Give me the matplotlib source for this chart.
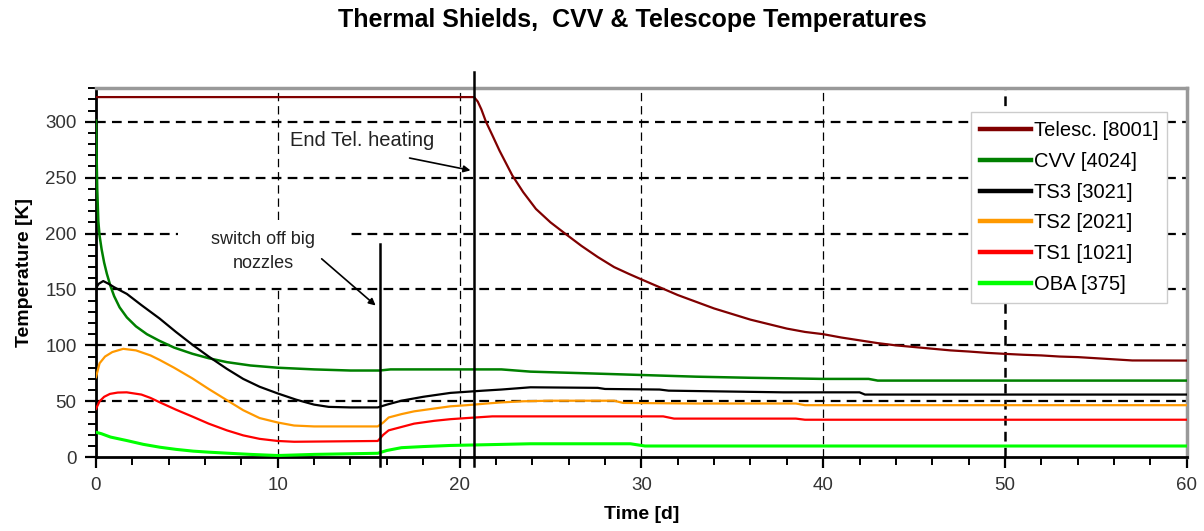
import numpy as np
import matplotlib.pyplot as plt
from matplotlib.patches import Rectangle
from matplotlib.ticker import MultipleLocator

plt.rcParams['font.family'] = ['Liberation Sans', 'DejaVu Sans']
plt.rcParams['lines.scale_dashes'] = False

# data (time in days, temperature in K)
t_telesc = [0, 20.8, 21.0, 21.2, 21.45, 21.8, 22.2, 22.9, 23.5, 24.2, 25.0, 25.8, 26.7, 27.6, 28.5, 29.3,
            30, 31, 32, 33, 34, 35, 36, 37, 38, 39, 40, 41, 42, 43, 44, 45, 46, 47, 48, 49, 50,
            51, 52, 53, 54, 55, 56, 57, 60]
T_telesc = [322, 322, 318, 311, 300, 288, 274, 252, 237, 222, 210, 200, 189, 179, 170, 164,
            159, 152, 145, 139, 133, 128, 123, 119, 115, 112, 110, 107, 104.5, 102, 100, 98.5, 97, 95.5, 94.5, 93.3, 92.4,
            91.6, 91, 90, 89.5, 88.5, 87.5, 86.5, 86.4]

t_cvv = [0, 0.03, 0.07, 0.13, 0.2, 0.31, 0.45, 0.6, 0.8, 1.0, 1.3, 1.7, 2.2, 2.8, 3.5, 4.3, 5.3, 6.2, 7.2,
         8.5, 10, 12, 14, 15.6, 16.2, 22.3, 23.9, 27, 30, 33, 36, 40, 42.5, 43, 60]
T_cvv = [301, 275, 240, 211, 198, 186, 174, 164, 153, 144, 134, 125, 117, 110, 104, 98, 92.5, 88.5, 85,
         82, 80, 78.5, 77.5, 77.5, 78.5, 78.5, 76.5, 75, 73.5, 72, 71, 70, 70, 68.5, 68.5]

t_ts3 = [0, 0.15, 0.4, 0.7, 1.0, 1.7, 2.5, 3.5, 4.4, 5.35, 6.2, 7.2, 8.1, 9.0, 10, 11, 12, 12.8, 14, 15.5,
         16.0, 16.8, 18, 19.5, 21.3, 22.3, 23.9, 27.6, 28, 31, 31.5, 37.8, 42, 42.3, 60]
T_ts3 = [151, 155, 157.5, 155, 152, 146, 136, 124, 112, 100, 90, 79, 70, 63, 57, 51.5, 47, 45, 44.5, 44.5,
         47, 50.5, 54, 57.5, 59.5, 60.5, 62.5, 62, 61, 60.5, 59.5, 58, 58, 56, 56]

t_ts2 = [0, 0.2, 0.5, 0.9, 1.5, 2.2, 3.0, 3.5, 4.3, 5.3, 6.2, 7.2, 8.1, 9.0, 10, 10.9, 12, 15.5,
         15.8, 16.1, 16.8, 17.5, 18.6, 19.5, 20.4, 21.5, 22.3, 23.5, 25, 28.5, 29, 33, 38.5, 39, 60]
T_ts2 = [71.5, 84, 90, 94, 96.9, 95.5, 91, 87, 80, 70.5, 61, 51, 42, 35, 31, 28.3, 27.5, 27.5,
         31, 35.5, 38.5, 41, 43.5, 45.5, 46.5, 48, 49, 50, 50.5, 50.5, 48.5, 48, 48, 46.5, 46.5]

t_ts1 = [0, 0.2, 0.45, 0.77, 1.2, 1.69, 2.5, 3.0, 3.52, 4.4, 5.35, 6.2, 7.2, 8.1, 9.0, 10, 10.9, 15.5,
         15.8, 16.1, 16.8, 17.5, 18.6, 19.5, 20.4, 21.8, 31.2, 31.8, 38.5, 39, 60]
T_ts1 = [43.2, 50, 54, 56.6, 57.8, 58, 56, 53, 49, 42.5, 36, 30, 24, 19.5, 16.4, 14.5, 13.8, 14.5,
         20, 24, 27, 30, 32.5, 34, 35, 36.5, 36.5, 34.5, 34.5, 33.5, 33.5]

t_oba = [0, 0.3, 0.8, 1.69, 2.6, 3.52, 4.4, 5.35, 6.2, 7.2, 8.5, 10, 12, 15.5,
         16.0, 16.8, 18, 19.5, 21, 23.9, 29.4, 30.2, 60]
T_oba = [22.3, 21, 18, 14.9, 11.5, 8.9, 7, 5.4, 4.5, 3.6, 2.5, 1.5, 2.5, 3.5,
         6, 8.5, 9.5, 10.5, 11, 12, 12, 10, 10]

labels = ['Telesc. [8001]', 'CVV [4024]', 'TS3 [3021]', 'TS2 [2021]', 'TS1 [1021]', 'OBA [375]']
colors = ['#800000', '#008000', '#000000', '#FF9900', '#FF0000', '#00FF00']
series = [(t_telesc, T_telesc), (t_cvv, T_cvv), (t_ts3, T_ts3),
          (t_ts2, T_ts2), (t_ts1, T_ts1), (t_oba, T_oba)]
widths = [1.6, 1.8, 1.6, 1.6, 1.6, 2.2]

t_switch = 15.6   # switch off big nozzles
t_heat = 20.8     # end telescope heating

fig = plt.figure(figsize=(12.04, 5.31), dpi=100)
ax = fig.add_axes([0.0797, 0.139, 0.906, 0.695])

# grid
for yv in range(50, 301, 50):
    ax.axhline(yv, color='black', lw=1.6, dashes=(7, 4.5), zorder=1)
for xv in [10, 20, 30, 40]:
    ax.axvline(xv, color='black', lw=0.9, dashes=(6, 3.5), zorder=1)
ax.axvline(50, color='black', lw=1.8, dashes=(7, 4.5), zorder=1)

# white box behind the nozzle text
ax.add_patch(Rectangle((4.5, 152), 9.4, 59, fc='white', ec='none', zorder=1.5))

for (t, T), lab, col, lw in zip(series, labels, colors, widths):
    ax.plot(t, T, color=col, lw=lw, label=lab, zorder=3)

# event markers
ax.plot([t_switch, t_switch], [-8, 191], color='black', lw=1.8, clip_on=False, zorder=4)
ax.plot([t_heat, t_heat], [-8, 344], color='black', lw=1.8, clip_on=False, zorder=4)

ax.text(14.66, 283, 'End Tel. heating', ha='center', va='center', fontsize=14.5, color='#222222')
ax.annotate('', xy=(20.75, 256), xytext=(17.1, 268),
            arrowprops=dict(arrowstyle='-|>', color='black', lw=1.2, mutation_scale=10), zorder=5)
ax.text(9.2, 184, 'switch off big\nnozzles', ha='center', va='center', fontsize=13,
        color='#222222', linespacing=1.5, zorder=5)
ax.annotate('', xy=(15.5, 134), xytext=(12.3, 179),
            arrowprops=dict(arrowstyle='-|>', color='black', lw=1.2, mutation_scale=10), zorder=5)

ax.set_xlim(0, 60)
ax.set_ylim(0, 330)
ax.xaxis.set_major_locator(MultipleLocator(10))
ax.xaxis.set_minor_locator(MultipleLocator(2))
ax.yaxis.set_major_locator(MultipleLocator(50))
ax.yaxis.set_minor_locator(MultipleLocator(10))
ax.tick_params(which='major', direction='out', length=8, width=1.6, labelsize=13.5,
               labelcolor='#333333', pad=6)
ax.tick_params(which='minor', direction='out', length=6, width=1.4)

for s in ['left', 'bottom']:
    ax.spines[s].set_linewidth(2)
    ax.spines[s].set_color('black')
for s in ['top', 'right']:
    ax.spines[s].set_linewidth(2.5)
    ax.spines[s].set_color('#999999')

ax.set_xlabel('Time [d]', fontsize=14, fontweight='bold', labelpad=9)
ax.set_ylabel('Temperature [K]', fontsize=14, fontweight='bold', labelpad=9)
fig.text(0.525, 0.963, 'Thermal Shields,  CVV & Telescope Temperatures', fontsize=18,
         fontweight='bold', ha='center', va='center')

leg = ax.legend(loc='upper right', bbox_to_anchor=(0.982, 0.935), borderaxespad=0,
                fontsize=14.5, handlelength=2.5, labelspacing=0.58, fancybox=False,
                edgecolor='#cccccc', framealpha=1, borderpad=0.45, handletextpad=0.15)
for line in leg.get_lines():
    line.set_linewidth(3.2)
leg.set_zorder(6)

fig.savefig('out.png', dpi=100)
